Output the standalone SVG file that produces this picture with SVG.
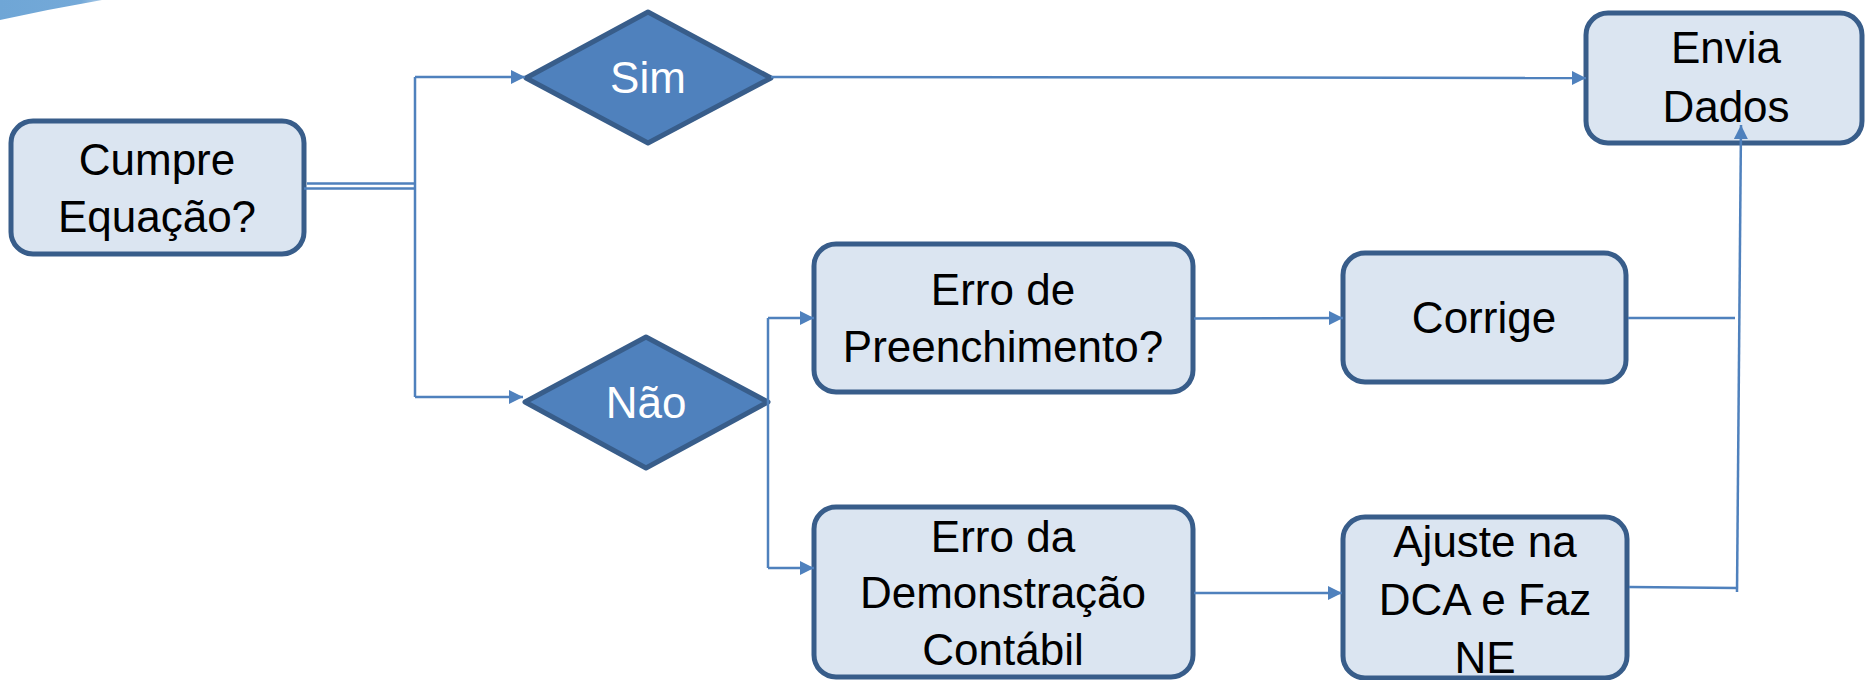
<svg xmlns="http://www.w3.org/2000/svg" width="1866" height="680" viewBox="0 0 1866 680">
<defs>
<linearGradient id="sw" x1="0" y1="0" x2="1" y2="0">
<stop offset="0" stop-color="#6FA6D6"/>
<stop offset="0.8" stop-color="#74A9D8"/>
<stop offset="1" stop-color="#A9CAE8"/>
</linearGradient>
<marker id="ah" viewBox="0 0 10 10" refX="10" refY="5" markerWidth="14" markerHeight="14" markerUnits="userSpaceOnUse" orient="auto">
<path d="M0,0 L10,5 L0,10 Z" fill="#4F81BD"/>
</marker>
<style>
.box{fill:#DBE5F1;stroke:#385D8A;stroke-width:5}
.dia{fill:#4F81BD;stroke:#385D8A;stroke-width:5;stroke-linejoin:round}
.t{font-family:"Liberation Sans",Arial,sans-serif;font-size:44px;fill:#000;text-anchor:middle}
.tw{font-family:"Liberation Sans",Arial,sans-serif;font-size:44px;fill:#FFFFFF;text-anchor:middle}
.c{fill:none;stroke:#4F81BD;stroke-width:2.5}
.ca{fill:none;stroke:#4F81BD;stroke-width:2.5;marker-end:url(#ah)}
</style>
</defs>
<rect width="1866" height="680" fill="#FFFFFF"/>
<path d="M0,0 L102,0 Q50,9 0,20 Z" fill="url(#sw)"/>
<g id="cumpre">
<rect class="box" x="11" y="121" width="293" height="133" rx="22"/>
<text class="t" x="157" y="175">Cumpre</text>
<text class="t" x="157" y="232">Equação?</text>
</g>
<g id="sim">
<polygon class="dia" points="526,78 648,12 771,78 648,143"/>
<text class="tw" x="648" y="93">Sim</text>
</g>
<g id="nao">
<polygon class="dia" points="525,402 646,337 768,402 646,468"/>
<text class="tw" x="646" y="418">Não</text>
</g>
<g id="envia">
<rect class="box" x="1586" y="13" width="276" height="130" rx="22"/>
<text class="t" x="1726" y="63">Envia</text>
<text class="t" x="1726" y="122">Dados</text>
</g>
<g id="erro-preenchimento">
<rect class="box" x="814" y="244" width="379" height="148" rx="22"/>
<text class="t" x="1003" y="305">Erro de</text>
<text class="t" x="1003" y="362">Preenchimento?</text>
</g>
<g id="corrige">
<rect class="box" x="1343" y="253" width="283" height="129" rx="22"/>
<text class="t" x="1484" y="333">Corrige</text>
</g>
<g id="erro-demonstracao">
<rect class="box" x="814" y="507" width="379" height="170" rx="22"/>
<text class="t" x="1003" y="552">Erro da</text>
<text class="t" x="1003" y="608">Demonstração</text>
<text class="t" x="1003" y="665">Contábil</text>
</g>
<g id="ajuste">
<rect class="box" x="1343" y="517" width="284" height="161" rx="22"/>
<text class="t" x="1485" y="557">Ajuste na</text>
<text class="t" x="1485" y="615">DCA e Faz</text>
<text class="t" x="1485" y="673">NE</text>
</g>
<g id="connectors">
<line class="c" x1="307" y1="183.5" x2="415" y2="183.5" stroke-width="2"/>
<line class="c" x1="304" y1="188.5" x2="415" y2="188.5" stroke-width="2"/>
<line class="c" x1="415" y1="77" x2="415" y2="397"/>
<path class="ca" d="M415,77 L525,77"/>
<path class="ca" d="M415,397 L523,397"/>
<path class="ca" d="M771,77 L1586,78"/>
<line class="c" x1="768" y1="318" x2="768" y2="568"/>
<path class="ca" d="M768,318 L814,318"/>
<path class="ca" d="M768,568 L814,568"/>
<path class="ca" d="M1194,318.5 L1343,318"/>
<path class="ca" d="M1194,593 L1342,593"/>
<line class="c" x1="1628" y1="318" x2="1735" y2="318"/>
<line class="c" x1="1629" y1="587" x2="1737" y2="588"/>
<path class="ca" d="M1737,592 L1741,125"/>
</g>
</svg>
